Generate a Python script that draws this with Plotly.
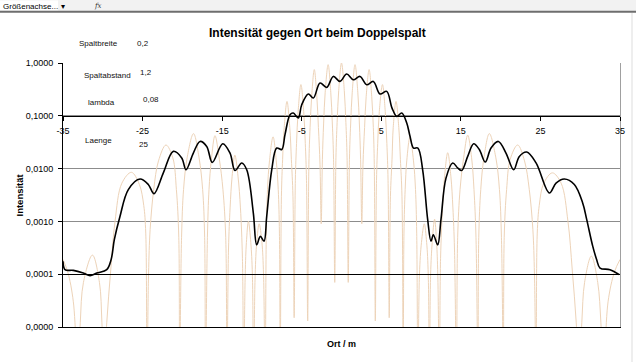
import plotly.graph_objects as go

# ---------------- data ----------------
x_tick_vals = [-35, -25, -15, -5, 5, 15, 25, 35]
x_tick_text = ["-35", "-25", "-15", "-5", "5", "15", "25", "35"]
y_tick_vals = [1e-5, 1e-4, 1e-3, 1e-2, 1e-1, 1.0]
y_tick_text = ["0,0000", "0,0001", "0,0010", "0,0100", "0,1000", "1,0000"]

param_names = ["Spaltbreite", "Spaltabstand", "lambda", "Laenge"]
param_values = ["0,2", "1,2", "0,08", "25"]

# thin tan series (interference pattern)
tan_points = [
    (-35.0, 1.9e-4), (-34.4, 1.1e-4), (-33.7, 3.0e-5), (-33.1, 1e-6),
    (-32.83, 1.2e-5), (-32.43, 7.0e-5), (-31.3, 2.3e-4), (-30.42, 7.0e-5), (-30.11, 1.2e-5), (-29.85, 1e-6),
    (-29.5, 1.2e-5), (-29.0, 1.2e-4), (-28.46, 1.0e-3), (-27.6, 5.3e-3), (-26.4, 8.5e-3), (-25.4, 5.0e-3),
    (-24.85, 2.0e-3), (-24.6, 6.0e-4), (-24.45, 1e-6),
    (-24.25, 1.0e-4), (-24.05, 7.0e-4), (-23.6, 4.0e-3), (-23.0, 1.4e-2), (-22.06, 2.8e-2), (-21.2, 1.6e-2),
    (-20.75, 4.0e-3), (-20.45, 5.0e-4), (-20.35, 1e-6),
    (-20.1, 5.0e-4), (-19.85, 4.0e-3), (-19.4, 1.6e-2), (-18.6, 4.6e-2), (-17.9, 1.6e-2), (-17.45, 4.0e-3),
    (-17.2, 5.0e-4), (-17.1, 1e-6),
    (-16.85, 5.0e-4), (-16.65, 4.0e-3), (-16.35, 1.5e-2), (-15.9, 4.2e-2), (-15.35, 1.5e-2), (-14.9, 4.0e-3),
    (-14.55, 5.0e-4), (-14.4, 1e-6),
    (-14.2, 3.0e-4), (-14.0, 1.8e-3), (-13.75, 7.0e-3), (-13.4, 1.8e-2), (-13.0, 7.0e-3), (-12.7, 1.8e-3),
    (-12.45, 2.0e-4), (-12.3, 1e-6),
    (-12.1, 1.0e-4), (-11.95, 4.0e-4), (-11.7, 1.0e-3), (-11.4, 4.0e-4), (-11.2, 1.0e-4), (-11.05, 1e-6),
    (-10.85, 1.0e-4), (-10.65, 4.0e-4), (-10.35, 9.0e-4), (-10.0, 4.0e-4), (-9.8, 1.0e-4), (-9.6, 1e-6),
    (-9.45, 6.0e-4), (-9.3, 4.0e-3), (-9.05, 1.4e-2), (-8.6, 4.0e-2), (-8.2, 1.4e-2), (-7.95, 4.0e-3),
    (-7.8, 6.0e-4), (-7.7, 1e-6),
    (-7.55, 3.0e-3), (-7.4, 1.5e-2), (-7.2, 6.0e-2), (-6.85, 0.187), (-6.5, 6.0e-2), (-6.3, 1.5e-2),
    (-6.1, 3.0e-3), (-5.95, 1.5e-5),
    (-5.8, 6.0e-3), (-5.65, 3.0e-2), (-5.45, 0.12), (-5.1, 0.39), (-4.75, 0.12), (-4.55, 3.0e-2),
    (-4.4, 6.0e-3), (-4.25, 1.3e-5),
    (-4.1, 1.2e-2), (-3.95, 6.0e-2), (-3.75, 0.23), (-3.42, 0.75), (-3.1, 0.23), (-2.9, 6.0e-2),
    (-2.7, 1.2e-2), (-2.55, 9.0e-4),
    (-2.4, 1.5e-2), (-2.25, 7.0e-2), (-2.05, 0.28), (-1.68, 0.93), (-1.35, 0.28), (-1.15, 7.0e-2),
    (-1.0, 1.5e-2), (-0.85, 7.0e-5),
    (-0.7, 1.6e-2), (-0.55, 7.5e-2), (-0.35, 0.30), (0.0, 1.0), (0.35, 0.30), (0.55, 7.5e-2),
    (0.7, 1.6e-2), (0.85, 7.0e-5),
    (1.0, 1.5e-2), (1.15, 7.0e-2), (1.35, 0.28), (1.70, 0.93), (2.05, 0.28), (2.25, 7.0e-2),
    (2.4, 1.5e-2), (2.55, 9.0e-4),
    (2.7, 1.2e-2), (2.9, 6.0e-2), (3.1, 0.23), (3.47, 0.75), (3.8, 0.23), (4.0, 6.0e-2),
    (4.12, 1.2e-2), (4.25, 1.3e-5),
    (4.4, 6.0e-3), (4.55, 3.0e-2), (4.75, 0.12), (5.15, 0.39), (5.5, 0.12), (5.7, 3.0e-2),
    (5.85, 6.0e-3), (6.0, 1.5e-5),
    (6.15, 3.0e-3), (6.35, 1.5e-2), (6.5, 6.0e-2), (6.85, 0.187), (7.2, 6.0e-2), (7.4, 1.5e-2),
    (7.6, 3.0e-3), (7.75, 1e-6),
    (7.85, 6.0e-4), (8.0, 4.0e-3), (8.2, 1.4e-2), (8.6, 3.9e-2), (9.05, 1.4e-2), (9.3, 4.0e-3),
    (9.45, 6.0e-4), (9.6, 1e-6),
    (9.8, 1.0e-4), (10.05, 4.0e-4), (10.4, 9.0e-4), (10.7, 4.0e-4), (10.9, 1.0e-4), (11.05, 1e-6),
    (11.2, 1.0e-4), (11.4, 4.0e-4), (11.7, 1.1e-3), (11.95, 4.0e-4), (12.1, 1.0e-4), (12.3, 1e-6),
    (12.45, 2.0e-4), (12.7, 1.8e-3), (12.95, 7.0e-3), (13.35, 2.0e-2), (13.75, 7.0e-3), (14.0, 1.8e-3),
    (14.2, 3.0e-4), (14.45, 1e-6),
    (14.6, 5.0e-4), (14.9, 4.0e-3), (15.35, 1.6e-2), (15.86, 4.3e-2), (16.35, 1.6e-2), (16.65, 4.0e-3),
    (16.9, 5.0e-4), (17.15, 1e-6),
    (17.25, 5.0e-4), (17.5, 4.0e-3), (17.9, 1.6e-2), (18.58, 4.6e-2), (19.4, 1.6e-2), (19.85, 4.0e-3),
    (20.1, 5.0e-4), (20.35, 1e-6),
    (20.45, 5.0e-4), (20.75, 4.0e-3), (21.2, 1.5e-2), (22.14, 2.8e-2), (23.0, 1.4e-2), (23.6, 4.0e-3),
    (24.05, 7.0e-4), (24.25, 1.0e-4), (24.45, 1e-6),
    (24.6, 6.0e-4), (24.85, 2.0e-3), (25.4, 5.2e-3), (26.5, 8.3e-3), (27.6, 5.3e-3), (28.46, 1.0e-3),
    (29.0, 1.2e-4), (29.5, 1.2e-5), (29.85, 1e-6),
    (30.2, 1.2e-5), (30.55, 7.0e-5), (31.4, 2.2e-4), (32.2, 7.0e-5), (32.6, 1.2e-5), (32.9, 1e-6),
    (33.5, 3.0e-5), (34.3, 1.1e-4), (35.0, 1.9e-4),
]

# thick black series
black_points = [
    (-35.0, 1.75e-4), (-34.75, 1.22e-4), (-33.7, 1.18e-4), (-32.45, 1.05e-4), (-31.6, 9.4e-5),
    (-30.76, 1.05e-4), (-29.5, 1.22e-4), (-28.95, 1.9e-4), (-28.55, 4.5e-4), (-27.84, 1.24e-3),
    (-26.79, 4.0e-3), (-25.32, 6.35e-3), (-24.28, 5.0e-3), (-23.56, 3.35e-3), (-22.39, 8.3e-3),
    (-21.14, 2.12e-2), (-20.08, 1.59e-2), (-19.54, 9.5e-3), (-18.62, 1.97e-2), (-17.78, 3.27e-2),
    (-16.94, 2.63e-2), (-16.24, 1.31e-2), (-14.93, 2.96e-2), (-14.01, 1.97e-2), (-13.38, 9.2e-3),
    (-12.54, 1.28e-2), (-11.91, 9.5e-3), (-11.08, 1.44e-3), (-10.66, 3.6e-4), (-10.2, 5.2e-4),
    (-9.74, 4.2e-4), (-9.4, 1.24e-3), (-8.77, 9.5e-3), (-8.14, 2.45e-2), (-7.51, 2.3e-2),
    (-7.1, 4.4e-2), (-6.47, 0.105), (-6.06, 0.113), (-5.43, 0.091), (-5.0, 0.162), (-4.17, 0.259),
    (-3.54, 0.217), (-2.70, 0.418), (-1.86, 0.345), (-1.03, 0.557), (-0.19, 0.448), (0.65, 0.619),
    (1.48, 0.483), (2.33, 0.557), (3.17, 0.388), (4.0, 0.448), (4.84, 0.259), (5.68, 0.29),
    (6.35, 0.14), (6.94, 0.0975), (7.57, 0.113), (8.2, 0.073), (8.61, 0.041), (9.05, 0.0245),
    (9.6, 0.0245), (10.2, 9.5e-3), (10.83, 1.08e-3), (11.25, 4.2e-4), (11.54, 5.6e-4), (12.09, 3.6e-4),
    (12.5, 1.08e-3), (13.13, 6.6e-3), (13.98, 1.28e-2), (14.6, 1.03e-2), (15.1, 9.2e-3), (15.86, 1.7e-2),
    (16.61, 2.96e-2), (17.32, 2.3e-2), (18.07, 1.33e-2), (18.79, 2.45e-2), (19.71, 3.27e-2),
    (20.67, 1.97e-2), (21.64, 9.5e-3), (22.35, 1.7e-2), (23.28, 2.06e-2), (24.45, 1.28e-2),
    (26.12, 3.45e-3), (26.96, 5.3e-3), (28.0, 6.35e-3), (29.26, 5.0e-3), (30.31, 2.24e-3),
    (30.82, 1.08e-3), (31.57, 3.4e-4), (32.07, 1.88e-4), (32.49, 1.31e-4), (33.74, 1.22e-4),
    (34.91, 9.8e-5),
]

tan_x = [p[0] for p in tan_points]
tan_y = [p[1] for p in tan_points]
black_x = [p[0] for p in black_points]
black_y = [p[1] for p in black_points]

# ---------------- layout helpers (pixel -> paper) ----------------
W, H = 636, 362
ML, MR, MT, MB = 63, 16, 63, 35
PW, PH = W - ML - MR, H - MT - MB


def px(x):
    return (x - ML) / PW


def py(y):
    return (H - MB - y) / PH


FONT = "Liberation Sans, Arial, sans-serif"

fig = go.Figure()
fig.add_trace(go.Scatter(
    x=tan_x, y=tan_y, mode="lines",
    line=dict(color="#EDD3B8", width=1, shape="spline", smoothing=1),
    hoverinfo="skip", showlegend=False,
))
fig.add_trace(go.Scatter(
    x=black_x, y=black_y, mode="lines",
    line=dict(color="#000000", width=1.6, shape="spline", smoothing=1),
    hoverinfo="skip", showlegend=False,
))
# empty helper traces so the overlay axes are created
fig.add_trace(go.Scatter(x=[], y=[], xaxis="x2", yaxis="y", showlegend=False))
fig.add_trace(go.Scatter(x=[], y=[], xaxis="x3", yaxis="y", showlegend=False))
fig.add_trace(go.Scatter(x=[], y=[], xaxis="x", yaxis="y2", showlegend=False))

annotations = []
name_pos = [(98.6, 43), (107, 76), (101.7, 102), (98, 140)]
val_pos = [(143, 43), (145.5, 73), (151, 99.5), (143, 144)]
for n, v, (nx, ny), (vx, vy) in zip(param_names, param_values, name_pos, val_pos):
    annotations.append(dict(x=px(nx), y=py(ny), xref="paper", yref="paper", text=n, showarrow=False,
                            xanchor="center", yanchor="middle", font=dict(family=FONT, size=8, color="#111")))
    annotations.append(dict(x=px(vx), y=py(vy), xref="paper", yref="paper", text=v, showarrow=False,
                            xanchor="center", yanchor="middle", font=dict(family=FONT, size=8, color="#111")))

annotations += [
    dict(x=px(317.5), y=py(33), xref="paper", yref="paper", showarrow=False,
         text="<b>Intensität gegen Ort beim Doppelspalt</b>", xanchor="center", yanchor="middle",
         font=dict(family=FONT, size=12, color="#000")),
    dict(x=px(18.5), y=py(195), xref="paper", yref="paper", showarrow=False, textangle=-90,
         text="<b>Intensität</b>", xanchor="center", yanchor="middle",
         font=dict(family=FONT, size=9.5, color="#000")),
    dict(x=px(341.5), y=py(343.5), xref="paper", yref="paper", showarrow=False,
         text="<b>Ort / m</b>", xanchor="center", yanchor="middle",
         font=dict(family=FONT, size=9, color="#000")),
    dict(x=px(1), y=py(6), xref="paper", yref="paper", showarrow=False,
         text="Größenachse...", xanchor="left", yanchor="middle",
         font=dict(family=FONT, size=8, color="#000")),
    dict(x=px(62.5), y=py(6), xref="paper", yref="paper", showarrow=False,
         text="▾", xanchor="center", yanchor="middle",
         font=dict(family=FONT, size=8, color="#000")),
    dict(x=px(98), y=py(5.5), xref="paper", yref="paper", showarrow=False,
         text="<i>fx</i>", xanchor="center", yanchor="middle",
         font=dict(family="DejaVu Serif, serif", size=7, color="#333")),
]

shapes = [
    dict(type="rect", xref="paper", yref="paper", x0=px(0), x1=px(W), y0=py(0), y1=py(11),
         fillcolor="#F2F2F2", line=dict(width=0), layer="below"),
    dict(type="rect", xref="paper", yref="paper", x0=px(0), x1=px(58), y0=py(0.5), y1=py(10.5),
         fillcolor="#FFFFFF", line=dict(width=0), layer="below"),
    dict(type="line", xref="paper", yref="paper", x0=px(0), x1=px(W), y0=py(11.8), y1=py(11.8),
         line=dict(color="#6E6E6E", width=2)),
    dict(type="line", xref="paper", yref="paper", x0=px(632), x1=px(632), y0=py(13), y1=py(H),
         line=dict(color="#DDDDDD", width=1)),
]

fig.update_layout(
    width=W, height=H,
    margin=dict(l=ML, r=MR, t=MT, b=MB, pad=0),
    paper_bgcolor="white", plot_bgcolor="white",
    showlegend=False,
    hovermode=False,
    font=dict(family=FONT, size=9, color="#000"),
    xaxis=dict(range=[-35, 35], showgrid=False, zeroline=False, showline=True,
               linecolor="#000", linewidth=1, showticklabels=False, ticks="", anchor="y"),
    xaxis2=dict(range=[-35, 35], overlaying="x", anchor="free", position=0.8, side="bottom",
                showgrid=False, zeroline=False, showline=True, linecolor="#000", linewidth=1,
                ticks="outside", ticklen=4, tickcolor="#000", tickmode="array",
                tickvals=x_tick_vals, ticktext=x_tick_text, ticklabelstandoff=2,
                tickfont=dict(family=FONT, size=9, color="#000")),
    xaxis3=dict(range=[-35, 35], overlaying="x", anchor="free", position=0.2, side="bottom",
                showgrid=False, zeroline=False, showline=True, linecolor="#000", linewidth=1,
                ticks="", showticklabels=False),
    yaxis=dict(type="log", range=[-5, 0], tickmode="array", tickvals=y_tick_vals, ticktext=y_tick_text,
               ticks="outside", ticklen=4, tickcolor="#000", showline=True, linecolor="#000", linewidth=1,
               showgrid=True, gridcolor="#8C8C8C", gridwidth=1, zeroline=False, ticklabelstandoff=3,
               tickfont=dict(family=FONT, size=9, color="#000")),
    yaxis2=dict(type="log", range=[-5, 0], overlaying="y", side="right", showline=True,
                linecolor="#A0A0A0", linewidth=1, showticklabels=False, ticks="", showgrid=False,
                zeroline=False),
    annotations=annotations,
    shapes=shapes,
)

fig.write_html("out.html", config={"displayModeBar": False, "staticPlot": True},
               post_script="document.body.style.margin='0';document.body.style.overflow='hidden';")
